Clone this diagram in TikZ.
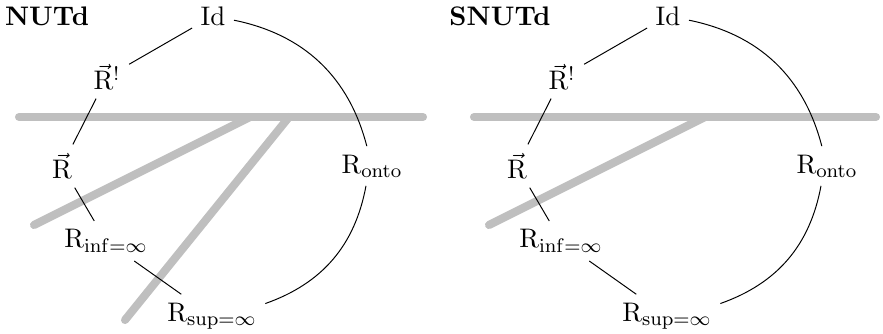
\documentclass[tikz,border=0pt]{standalone}
\begin{document}
\begin{tikzpicture}[x=0.408pt,y=0.408pt,
  font=\fontsize{10.95}{13.6}\selectfont,
  lbl/.style={inner sep=0.3333em},
  ttl/.style={font=\fontsize{10.95}{13.6}\selectfont\bfseries},
  con/.style={draw=black,line width=0.4pt},
  bar/.style={draw=lightgray,line width=3.3pt,line cap=round}]
\useasboundingbox (0,0) rectangle (883,333);
% ---------- left: NUTd ----------
\begin{scope}
\coordinate (hA) at (19,216);
\coordinate (hB) at (423,216);
\coordinate (j1) at (250,216);
\coordinate (e1) at (34,108);
\coordinate (j2) at (289,216);
\coordinate (e2) at (125,13);
\draw[bar] (hA) -- (hB);
\draw[bar] (j1) -- (e1);
\draw[bar] (j2) -- (e2);
\node[ttl] (tL) at (47,317) {NUTd};
\node[lbl] (idL) at (213,317) {Id};
\node[lbl] (rbL) at (107,256) {$\vec{\mathrm{R}}^{!}$};
\node[lbl] (rvL) at (62,167) {$\vec{\mathrm{R}}$};
\node[lbl] (roL) at (372,167) {$\mathrm{R}_{\mathrm{onto}}$};
\node[lbl] (riL) at (106,92) {$\mathrm{R}_{\mathrm{inf}=\infty}$};
\node[lbl] (rsL) at (212,17) {$\mathrm{R}_{\mathrm{sup}=\infty}$};
\draw[con] (idL) -- (rbL);
\draw[con] (rbL) -- (rvL);
\draw[con] (rvL) -- (riL);
\draw[con] (riL) -- (rsL);
\draw[con] (idL) to[bend left=32] (roL);
\draw[con] (roL) to[bend left=30] (rsL);
\end{scope}
% ---------- right: SNUTd ----------
\begin{scope}[xshift=455*0.408pt]
\coordinate (hC) at (19,216);
\coordinate (hD) at (421,216);
\coordinate (j3) at (250,216);
\coordinate (e3) at (34,108);
\draw[bar] (hC) -- (hD);
\draw[bar] (j3) -- (e3);
\node[ttl] (tR) at (45,317) {SNUTd};
\node[lbl] (idR) at (213,317) {Id};
\node[lbl] (rbR) at (107,256) {$\vec{\mathrm{R}}^{!}$};
\node[lbl] (rvR) at (62,167) {$\vec{\mathrm{R}}$};
\node[lbl] (roR) at (372,167) {$\mathrm{R}_{\mathrm{onto}}$};
\node[lbl] (riR) at (106,92) {$\mathrm{R}_{\mathrm{inf}=\infty}$};
\node[lbl] (rsR) at (212,17) {$\mathrm{R}_{\mathrm{sup}=\infty}$};
\draw[con] (idR) -- (rbR);
\draw[con] (rbR) -- (rvR);
\draw[con] (rvR) -- (riR);
\draw[con] (riR) -- (rsR);
\draw[con] (idR) to[bend left=32] (roR);
\draw[con] (roR) to[bend left=30] (rsR);
\end{scope}
\end{tikzpicture}
\end{document}
